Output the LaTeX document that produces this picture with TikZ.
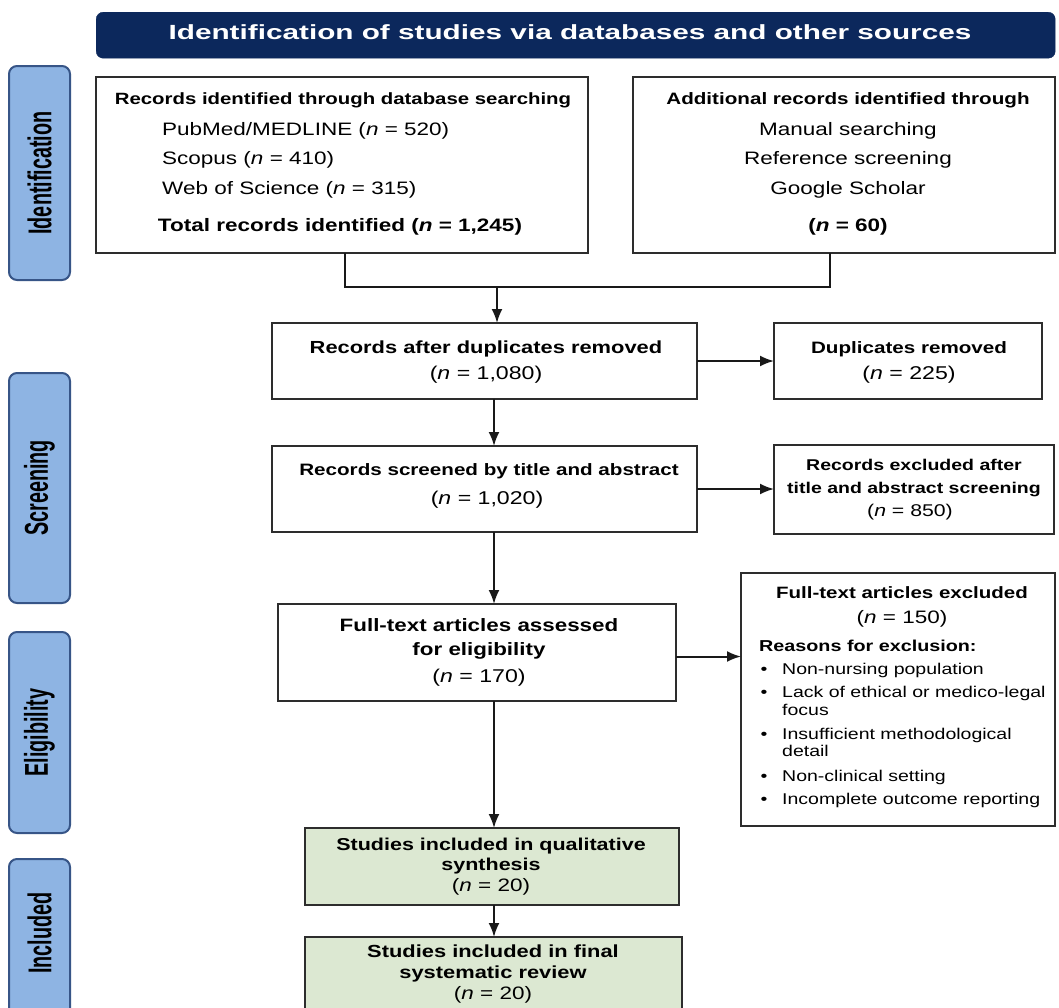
\documentclass[tikz,border=0pt]{standalone}
\usepackage{fontspec}
\setmainfont{Liberation Sans}[FakeStretch=1.25]
\newfontfamily\headfont{Liberation Sans}[FakeStretch=1.45]
\newfontfamily\labelfont{Liberation Sans}[FakeStretch=0.6]
\usetikzlibrary{arrows.meta}
\newcommand\fsz[1]{\fontsize{#1}{#1}\selectfont}
\definecolor{navy}{RGB}{12,40,92}
\definecolor{lblue}{RGB}{142,180,227}
\definecolor{lborder}{RGB}{55,85,135}
\definecolor{lgreen}{RGB}{220,232,210}
\definecolor{edge}{RGB}{45,45,45}
\tikzset{
  box/.style={draw=edge, line width=1.8pt, fill=white, inner sep=0pt, outer sep=0pt, anchor=north west},
  gbox/.style={box, fill=lgreen},
  side/.style={draw=lborder, line width=2pt, fill=lblue, rounded corners=8pt, inner sep=0pt, outer sep=0pt, anchor=north west},
  t/.style={inner sep=0pt, text height=0.72em, text depth=0pt},
  tb/.style={t, font=\fsz{#1}\bfseries},
  tr/.style={t, font=\fsz{#1}},
  line/.style={draw=black!90, line width=2pt},
  arr/.style={line, -{Latex[length=14pt,width=11pt]}},
}
\begin{document}
\begin{tikzpicture}[x=1pt,y=-1pt]
\useasboundingbox (0,0) rectangle (1059,1007);
\clip (0,0) rectangle (1059,1007);
\fill[white] (0,0) rectangle (1059,1007);
% header
\node[draw=navy, fill=navy, rounded corners=7pt, anchor=north west, minimum width=959pt, minimum height=46pt, inner sep=0pt] (hdr) at (96,12) {};
\node[t, text=white, font=\headfont\fsz{20.5}\bfseries] (hdrt) at (570,36) {Identification of studies via databases and other sources};
% side labels
\node[side, minimum width=61pt, minimum height=214pt] (sid) at (9,66) {};
\node[rotate=90, inner sep=0pt, font=\labelfont\fsz{33}\bfseries] (sidt) at (sid.center) {Identification};
\node[side, minimum width=61pt, minimum height=230pt] (ssc) at (9,373) {};
\node[rotate=90, inner sep=0pt, font=\labelfont\fsz{33}\bfseries] (ssct) at (ssc.center) {Screening};
\node[side, minimum width=61pt, minimum height=201pt] (sel) at (9,632) {};
\node[rotate=90, inner sep=0pt, font=\labelfont\fsz{33}\bfseries] (selt) at (sel.center) {Eligibility};
\node[side, minimum width=61pt, minimum height=160pt] (sin) at (9,859) {};
\node[rotate=90, inner sep=0pt, font=\labelfont\fsz{33}\bfseries] (sint) at (9+30.5,933) {Included};
% identification boxes
\node[box, minimum width=492pt, minimum height=176pt] (L1) at (96,77) {};
\node[tb=16.3] (L1a) at (343,101) {Records identified through database searching};
\node[tr=18, anchor=west] (L1b) at (162,132) {PubMed/MEDLINE (\textit{n} = 520)};
\node[tr=18, anchor=west] (L1c) at (162,161) {Scopus (\textit{n} = 410)};
\node[tr=18, anchor=west] (L1d) at (162,191) {Web of Science (\textit{n} = 315)};
\node[tb=18] (L1e) at (340,228) {Total records identified (\textit{n} = 1,245)};
\node[box, minimum width=422pt, minimum height=176pt] (R1) at (633,77) {};
\node[tb=16.5] (R1a) at (848,101) {Additional records identified through};
\node[tr=18] (R1b) at (848,132) {Manual searching};
\node[tr=18] (R1c) at (848,161) {Reference screening};
\node[tr=18] (R1d) at (848,191) {Google Scholar};
\node[tb=18] (R1e) at (848,228) {(\textit{n} = 60)};
% screening
\node[box, minimum width=425pt, minimum height=76pt] (B2) at (272,323) {};
\node[tb=17.5] (B2a) at (486,350) {Records after duplicates removed};
\node[tr=18.5] (B2b) at (486,376) {(\textit{n} = 1,080)};
\node[box, minimum width=268pt, minimum height=76pt] (D) at (774,323) {};
\node[tb=16.5] (Da) at (909,350) {Duplicates removed};
\node[tr=18.5] (Db) at (909,376) {(\textit{n} = 225)};
\node[box, minimum width=425pt, minimum height=86pt] (B3) at (272,446) {};
\node[tb=16.5] (B3a) at (489,472) {Records screened by title and abstract};
\node[tr=18.5] (B3b) at (487,501) {(\textit{n} = 1,020)};
\node[box, minimum width=280pt, minimum height=89pt] (E3) at (774,445) {};
\node[tb=15.6] (E3a) at (914,467) {Records excluded after};
\node[tb=15.6] (E3b) at (914,490) {title and abstract screening};
\node[tr=17] (E3c) at (910,513) {(\textit{n} = 850)};
% eligibility
\node[box, minimum width=398pt, minimum height=97pt] (B4) at (278,604) {};
\node[tb=17.9] (B4a) at (479,628) {Full-text articles assessed};
\node[tb=17.9] (B4b) at (479,652) {for eligibility};
\node[tr=18.5] (B4c) at (479,679) {(\textit{n} = 170)};
\node[box, minimum width=314pt, minimum height=253pt] (E4) at (741,573) {};
\node[tb=16.4] (E4a) at (902,595) {Full-text articles excluded};
\node[tr=18] (E4b) at (902,620) {(\textit{n} = 150)};
\node[tb=15.8, anchor=west] (E4c) at (759,648) {Reasons for exclusion:};
\foreach \yy/\txt/\nm in {671/Non-nursing population/r1, 694/Lack of ethical or medico-legal/r2, 736/Insufficient methodological/r3, 778/Non-clinical setting/r4, 801/Incomplete outcome reporting/r5}{
  \node[tr=15.6] (\nm b) at (764,\yy) {•};
  \node[tr=15.6, anchor=west] (\nm) at (782,\yy) {\txt};
}
\node[tr=15.6, anchor=west] (r2x) at (782,712) {focus};
\node[tr=15.6, anchor=west] (r3x) at (782,753) {detail};
% included
\node[gbox, minimum width=374pt, minimum height=77pt] (G1) at (305,828) {};
\node[tb=17.2] (G1a) at (491,847) {Studies included in qualitative};
\node[tb=17.2] (G1b) at (491,867) {synthesis};
\node[tr=18] (G1c) at (491,888) {(\textit{n} = 20)};
\node[gbox, minimum width=377pt, minimum height=80pt] (G2) at (305,937) {};
\node[tb=17.5] (G2a) at (493,954) {Studies included in final};
\node[tb=17.5] (G2b) at (493,975) {systematic review};
\node[tr=18] (G2c) at (493,996) {(\textit{n} = 20)};
% connectors
\coordinate (jl) at (345,287);
\coordinate (jr) at (830,287);
\coordinate (jm) at (497,287);
\coordinate (sp) at (494,0);
\draw[line] (L1.south -| jl) -- (jl) -- (jr) -- (R1.south -| jr);
\draw[arr] (jm) -- (B2.north -| jm);
\draw[arr] (B2.east) -- (B2.east -| D.west);
\draw[arr] (B2.south -| sp) -- (B3.north -| sp);
\draw[arr] (B3.east) -- (B3.east -| E3.west);
\draw[arr] (B3.south -| sp) -- (B4.north -| sp);
\draw[arr] ([yshift=-4pt]B4.east) -- ([yshift=-4pt]B4.east -| E4.west);
\draw[arr] (B4.south -| sp) -- (G1.north -| sp);
\draw[arr] (G1.south -| sp) -- (G2.north -| sp);
\end{tikzpicture}
\end{document}
